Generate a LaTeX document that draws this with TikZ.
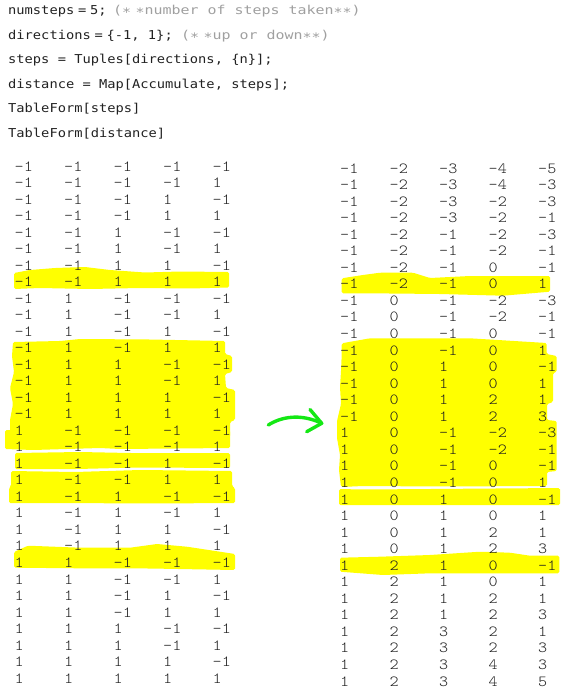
\documentclass[tikz,border=0pt]{standalone}
\usepackage{fontspec}
\usepackage{graphicx}
\newfontfamily\codefont[FakeStretch=1.12]{DejaVu Sans Mono}
\newfontfamily\tabfont[FakeStretch=1.12]{lmmonolt10-regular.otf}
\definecolor{codecol}{RGB}{34,34,34}
\definecolor{commcol}{RGB}{160,160,160}
\definecolor{tabcol}{RGB}{30,30,30}
\definecolor{hlyellow}{RGB}{255,255,0}
\definecolor{pengreen}{RGB}{20,232,20}
\tikzset{
  codeline/.style={anchor=base west, inner sep=0pt, text=codecol, font=\codefont\fontsize{12.3}{14}\selectfont},
  commline/.style={anchor=base west, inner sep=0pt, text=commcol, font=\codefont\fontsize{12.3}{14}\selectfont},
  tabentry/.style={anchor=base west, inner sep=0pt, text=tabcol, font=\tabfont\fontsize{15.5}{16}\selectfont},
  hl/.style={fill=hlyellow, draw=none, rounded corners=1.5bp},
  penstroke/.style={draw=pengreen, line width=3.4bp, line cap=round, line join=round}
}
\newcommand{\eqs}{\kern3.8bp=\kern3.8bp}
\begin{document}
\begin{tikzpicture}[x=1bp,y=-1bp]
\useasboundingbox (0,0) rectangle (582,697);
\fill[white] (0,0) rectangle (582,697);

% ---------- highlighter strokes (left table) ----------
\fill[hl] (14,273) -- (30,270) -- (55,268) -- (85,267) -- (110,270) -- (145,272.5) -- (180,271.5) -- (229,272) -- (229,287.5) -- (190,288.5) -- (140,288) -- (90,289) -- (40,288) -- (14,289) -- cycle;
\fill[hl] (13,342) -- (60,341) -- (80,339) -- (150,339.5) -- (225,341) -- (225,354) -- (232,356) -- (232,372) -- (225,374) -- (226,388) -- (235,390) -- (235,420) -- (230,422) -- (230,437) -- (200,438) -- (100,437.5) -- (10,438) -- (10,420) -- (13,404) -- (10,388) -- (14,372) -- (12,356) -- cycle;
\fill[hl] (5,430) -- (60,431) -- (230,430) -- (230,448) -- (120,449) -- (100,448) -- (33,450) -- (5,449) -- cycle;
\fill[hl] (15,453) -- (80,452) -- (130,453) -- (230,453) -- (230,468) -- (140,467.5) -- (77,469) -- (15,469) -- cycle;
\fill[hl] (11,471) -- (75,472) -- (140,470) -- (232,471) -- (232,486) -- (235,488) -- (235,503) -- (150,503.5) -- (60,503) -- (9,503) -- (9,488) -- (11,486) -- cycle;
\fill[hl] (14,552) -- (28,545.7) -- (80,547.7) -- (130,547.7) -- (157,544) -- (187,546.7) -- (235,554) -- (235,570) -- (150,568.5) -- (80,568.3) -- (14,567.7) -- cycle;

% ---------- highlighter strokes (right table) ----------
\fill[hl] (341.7,278.3) -- (363,275) -- (380,272.7) -- (413,272.7) -- (430,278) -- (470,276) -- (550,276) -- (550,291.7) -- (503,295.7) -- (440,294) -- (390,293.5) -- (341.7,293.3) -- cycle;
\fill[hl] (341.7,343.3) -- (370,338.3) -- (470,338.3) -- (546.7,343) -- (546.7,354) -- (556.7,356) -- (556.7,372) -- (553,373) -- (553,402) -- (547,404) -- (547,420) -- (556.7,421) -- (556.7,454) -- (556.7,471) -- (547,472) -- (547,486) -- (440,486.5) -- (363,486) -- (341,487) -- (339,470) -- (340,455) -- (337,438) -- (337,421) -- (341,404) -- (340,387) -- (341,371) -- (341.7,355) -- cycle;
\fill[hl] (339,489) -- (363,489.5) -- (430,489) -- (560,488) -- (560,505) -- (450,505) -- (339,505) -- cycle;
\fill[hl] (340,557.7) -- (380,556.7) -- (430,555) -- (480,551.7) -- (510,552.7) -- (530,555.7) -- (559.3,555.7) -- (559.3,573.3) -- (430,573.3) -- (383,575) -- (340,571.7) -- cycle;

% ---------- code lines ----------
\node[codeline] (c1) at (8,15) {numsteps\eqs 5;};
\node[commline] (k1) at (113,15) {\scalebox{1.09}[1]{(∗\kern4bp∗number of steps taken∗∗)}};
\node[codeline] (c2) at (8,39.5) {directions\eqs\{-1, 1\};};
\node[commline] (k2) at (181,39.5) {\scalebox{1.09}[1]{(∗\kern4bp∗up or down∗∗)}};
\node[codeline] (c3) at (8,64) {steps = Tuples[directions, \{n\}];};
\node[codeline] (c4) at (8,88.5) {distance = Map[Accumulate, steps];};
\node[codeline] (c5) at (8,113) {TableForm[steps]};
\node[codeline] (c6) at (8,137.5) {TableForm[distance]};

% ---------- left table ----------
\foreach \row [count=\i from 0] in {
 {–1,–1,–1,–1,–1},{–1,–1,–1,–1,1},{–1,–1,–1,1,–1},{–1,–1,–1,1,1},
 {–1,–1,1,–1,–1},{–1,–1,1,–1,1},{–1,–1,1,1,–1},{–1,–1,1,1,1},
 {–1,1,–1,–1,–1},{–1,1,–1,–1,1},{–1,1,–1,1,–1},{–1,1,–1,1,1},
 {–1,1,1,–1,–1},{–1,1,1,–1,1},{–1,1,1,1,–1},{–1,1,1,1,1},
 {1,–1,–1,–1,–1},{1,–1,–1,–1,1},{1,–1,–1,1,–1},{1,–1,–1,1,1},
 {1,–1,1,–1,–1},{1,–1,1,–1,1},{1,–1,1,1,–1},{1,–1,1,1,1},
 {1,1,–1,–1,–1},{1,1,–1,–1,1},{1,1,–1,1,–1},{1,1,–1,1,1},
 {1,1,1,–1,–1},{1,1,1,–1,1},{1,1,1,1,–1},{1,1,1,1,1}}{
  \foreach \v [count=\j from 0] in \row {
    \node[tabentry] (L-\i-\j) at ({14.5+49.5*\j},{171+16.52*\i}) {\v};
  }
}

% ---------- right table ----------
\foreach \row [count=\i from 0] in {
 {–1,–2,–3,–4,–5},{–1,–2,–3,–4,–3},{–1,–2,–3,–2,–3},{–1,–2,–3,–2,–1},
 {–1,–2,–1,–2,–3},{–1,–2,–1,–2,–1},{–1,–2,–1,0,–1},{–1,–2,–1,0,1},
 {–1,0,–1,–2,–3},{–1,0,–1,–2,–1},{–1,0,–1,0,–1},{–1,0,–1,0,1},
 {–1,0,1,0,–1},{–1,0,1,0,1},{–1,0,1,2,1},{–1,0,1,2,3},
 {1,0,–1,–2,–3},{1,0,–1,–2,–1},{1,0,–1,0,–1},{1,0,–1,0,1},
 {1,0,1,0,–1},{1,0,1,0,1},{1,0,1,2,1},{1,0,1,2,3},
 {1,2,1,0,–1},{1,2,1,0,1},{1,2,1,2,1},{1,2,1,2,3},
 {1,2,3,2,1},{1,2,3,2,3},{1,2,3,4,3},{1,2,3,4,5}}{
  \foreach \v [count=\j from 0] in \row {
    \node[tabentry] (R-\i-\j) at ({340+49.5*\j},{173+16.55*\i}) {\v};
  }
}

% ---------- green hand-drawn arrow ----------
\coordinate (arrS) at (268.3,425);
\coordinate (arrE) at (321.7,423.3);
\coordinate (arrH1) at (310,409.5);
\coordinate (arrH2) at (306.7,431.7);
\draw[penstroke] (arrS) .. controls (281,417) and (300,413) .. (arrE);
\draw[penstroke] (arrH1) -- (arrE) -- (arrH2);
\end{tikzpicture}
\end{document}
